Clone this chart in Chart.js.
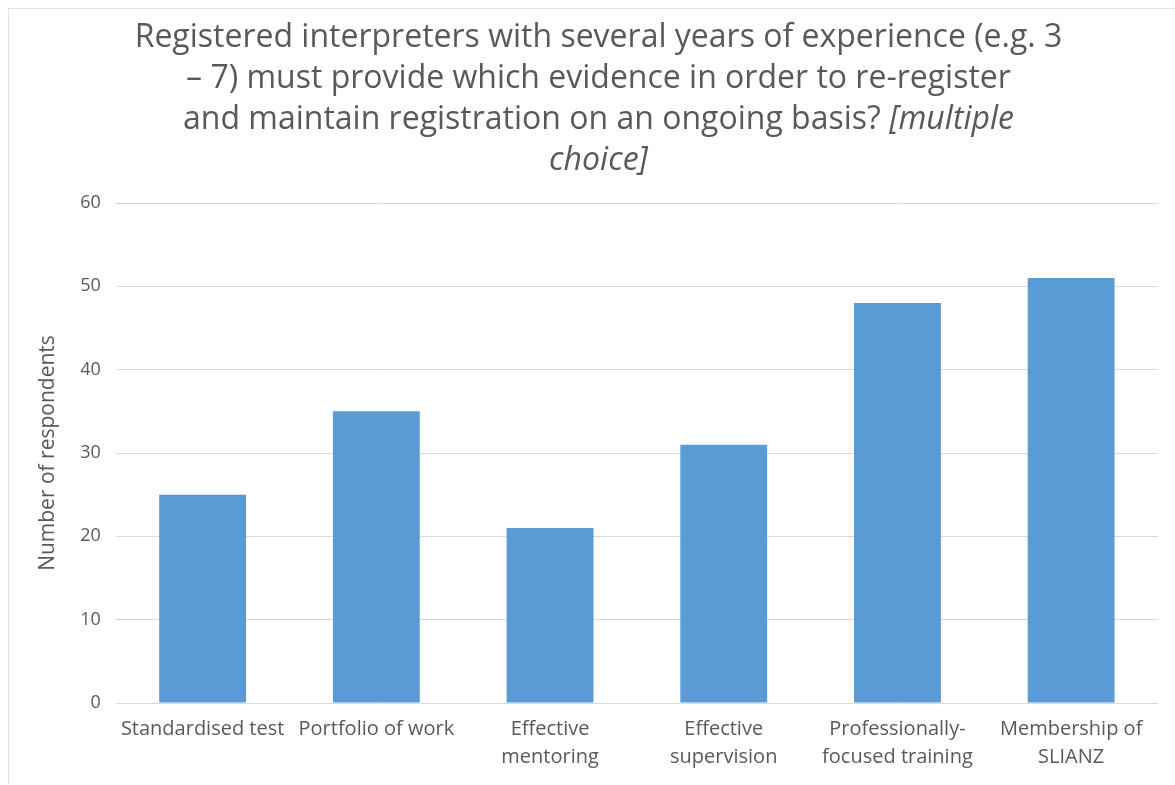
<!DOCTYPE html>
<html>
<head>
<meta charset="utf-8">
<script src="https://cdn.jsdelivr.net/npm/chart.js@4/dist/chart.umd.min.js"></script>
<style>
  html, body { margin: 0; padding: 0; background: #fff; }
  .frame { position: absolute; left: 8px; top: 8px; width: 1175px; height: 775px; border-left: 1px solid #e3e3e3; border-top: 1px solid #e3e3e3; }
  .wrap { position: absolute; left: 0; top: 0; width: 1175px; height: 785px; }
  .chart-title {
      position: absolute; left: 11px; top: 14px; width: 1175px;
      text-align: center; color: #595959;
      font-family: 'Open Sans', sans-serif; font-size: 32px; line-height: 41px;
  }
</style>
</head>
<body>
<div class="frame"></div>
<div class="wrap"><canvas id="evidenceChart"></canvas></div>
<div class="chart-title">
  Registered interpreters with several years of experience (e.g. 3<br>
  &ndash; 7) must provide which evidence in order to re-register<br>
  and maintain registration on an ongoing basis? <i>[multiple</i><br>
  <i>choice]</i>
</div>
<script>
// Chart data
const categories = [
    'Standardised test',
    'Portfolio of work',
    ['Effective', 'mentoring'],
    ['Effective', 'supervision'],
    ['Professionally-', 'focused training'],
    ['Membership of', 'SLIANZ']
];
const respondents = [25, 35, 21, 31, 48, 51];
const yTicks = [0, 10, 20, 30, 40, 50, 60];

const textGray = '#595959';

const ctx = document.getElementById('evidenceChart')?.getContext('2d');
if (ctx && typeof Chart !== 'undefined') {
    new Chart(ctx, {
        type: 'bar',
        data: {
            labels: categories,
            datasets: [{
                label: 'Respondents',
                data: respondents,
                backgroundColor: '#5b9bd5',
                barPercentage: 0.5,
                categoryPercentage: 1.0
            }]
        },
        options: {
            responsive: true,
            maintainAspectRatio: false,
            animation: false,
            layout: { padding: { left: 30, right: 17, top: 203, bottom: 10 } },
            plugins: {
                legend: { display: false },
                tooltip: { enabled: false }
            },
            scales: {
                x: {
                    grid: { display: false },
                    border: { display: false },
                    ticks: {
                        color: textGray,
                        font: { family: 'Open Sans', size: 20, lineHeight: 1.4 },
                        maxRotation: 0,
                        autoSkip: false,
                        padding: 4
                    }
                },
                y: {
                    min: 0,
                    max: 60,
                    afterBuildTicks: function(axis) {
                        axis.ticks = yTicks.map(v => ({ value: v }));
                    },
                    grid: { color: '#d9d9d9', lineWidth: 1, drawTicks: false },
                    border: { display: false },
                    ticks: {
                        color: textGray,
                        font: { family: 'Open Sans', size: 18 },
                        padding: 15
                    },
                    title: {
                        display: true,
                        text: 'Number of respondents',
                        color: textGray,
                        font: { family: 'Open Sans', size: 21 },
                        padding: { top: 5, bottom: 5 }
                    }
                }
            }
        }
    });
}
</script>
</body>
</html>
